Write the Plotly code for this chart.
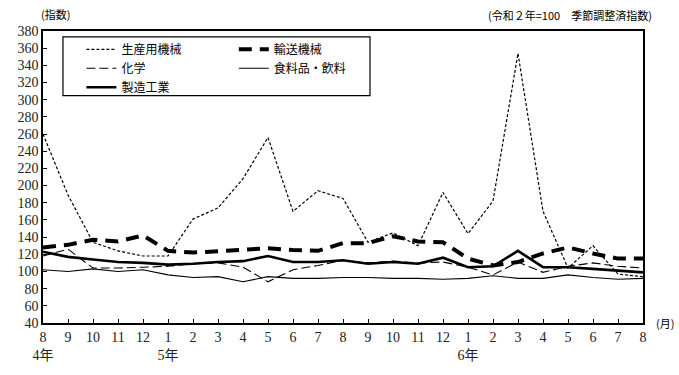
import plotly.graph_objects as go

months = ["8", "9", "10", "11", "12", "1", "2", "3", "4", "5", "6", "7",
          "8", "9", "10", "11", "12", "1", "2", "3", "4", "5", "6", "7", "8"]
year_marks = {0: "4年", 5: "5年", 17: "6年"}

seisan = [260, 189, 134, 124, 118, 118, 161, 174, 208, 256, 170, 194,
          185, 134, 145, 130, 192, 144, 182, 354, 170, 104, 130, 97, 94]
yuso = [128, 131, 137, 135, 142, 124, 122, 124, 126, 127, 125, 124,
        133, 133, 141, 135, 134, 115, 107, 111, 121, 128, 121, 115, 115]
kagaku = [118, 126, 104, 104, 105, 106, 109, 110, 105, 88, 102, 107,
          113, 110, 112, 110, 111, 105, 96, 111, 99, 106, 110, 106, 104]
shokuhin = [102, 100, 103, 100, 102, 96, 93, 94, 88, 94, 92, 92,
            93, 93, 92, 92, 91, 92, 95, 92, 92, 96, 93, 91, 92]
seizo = [123, 117, 114, 111, 110, 108, 109, 111, 112, 118, 111, 111,
         113, 109, 111, 109, 116, 105, 106, 124, 105, 105, 103, 101, 99]

x = list(range(len(months)))
ticktext = [m + ("<br>" + year_marks[i] if i in year_marks else "<br> ")
            for i, m in enumerate(months)]

fig = go.Figure()

def add(name, y, width, dash, legend):
    fig.add_trace(go.Scatter(x=x, y=y, mode="lines", name=name,
                             line=dict(color="black", width=width, dash=dash),
                             legend=legend))

add("生産用機械", seisan, 1.2, "3px,2px", "legend")
add("化学", kagaku, 1.1, "9px,4px", "legend")
add("製造工業", seizo, 2.6, "solid", "legend")
add("輸送機械", yuso, 4, "13px,8px", "legend2")
add("食料品・飲料", shokuhin, 1.1, "solid", "legend2")

jp = "Noto Sans CJK JP"
num_font = dict(family="Liberation Serif, " + jp, size=14, color="#222")

legend_common = dict(
    bgcolor="rgba(0,0,0,0)", borderwidth=0,
    font=dict(family=jp, size=12, color="black"),
    orientation="v", xanchor="left", yanchor="top",
    traceorder="normal", itemwidth=30,
)

fig.update_layout(
    width=679, height=375,
    margin=dict(l=43, r=36, t=31, b=46),
    paper_bgcolor="white", plot_bgcolor="white",
    showlegend=True,
    legend=dict(x=0.064, y=0.987, **legend_common),
    legend2=dict(x=0.318, y=0.987, **legend_common),
    xaxis=dict(range=[0, 24], tickmode="array", tickvals=x, ticktext=ticktext,
               ticks="inside", ticklen=4, tickcolor="black", tickwidth=1,
               showline=True, linecolor="black", linewidth=1.5, mirror=True,
               showgrid=False, zeroline=False, tickfont=num_font, tickangle=0),
    yaxis=dict(range=[40, 380], dtick=20, tick0=40,
               ticks="inside", ticklen=4, tickcolor="black", tickwidth=1,
               showline=True, linecolor="black", linewidth=1.5, mirror=True,
               showgrid=False, zeroline=False, tickfont=num_font),
    shapes=[dict(type="rect", xref="paper", yref="paper",
                 x0=0.0333, x1=0.545, y0=0.7785, y1=0.98,
                 line=dict(color="black", width=1.2), fillcolor="rgba(0,0,0,0)")],
    annotations=[
        dict(text="(指数)", xref="paper", yref="paper", x=-0.007, y=1.025,
             xanchor="left", yanchor="bottom", showarrow=False,
             font=dict(family=jp, size=11, color="black")),
        dict(text="(令和２年=100　季節調整済指数)", xref="paper", yref="paper",
             x=1.018, y=1.02, xanchor="right", yanchor="bottom", showarrow=False,
             font=dict(family=jp, size=11, color="black")),
        dict(text="(月)", xref="paper", yref="paper", x=1.018, y=0.0,
             xanchor="left", yanchor="middle", showarrow=False,
             font=dict(family=jp, size=11, color="black")),
    ],
)

fig.write_html("out.html", config={"displayModeBar": False},
               post_script="document.body.style.margin='0';document.body.style.padding='0';")
